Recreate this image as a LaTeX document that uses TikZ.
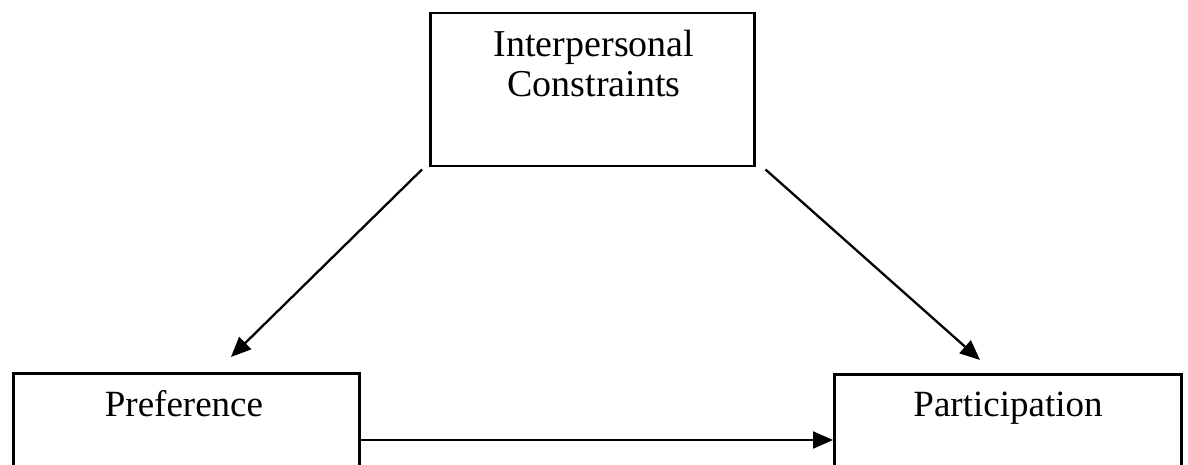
\documentclass[tikz,border=0pt]{standalone}
\usepackage{fontspec}
\setmainfont{Liberation Serif}
\usetikzlibrary{arrows.meta}
\tikzset{
  box/.style={draw, line width=2.5pt, rectangle, inner sep=0pt, anchor=north west},
  arr/.style={line width=2.3pt, -{Triangle[length=20pt,width=17pt]}},
  lbl/.style={inner sep=0pt, align=center},
}
\begin{document}
\begin{tikzpicture}[x=1pt,y=-1pt]
  \useasboundingbox (0,0) rectangle (1188,465);
  \clip (0,0) rectangle (1188,465);
  % boxes (the two lower ones run past the bottom edge)
  \node[box, minimum width=324pt, minimum height=153pt] (ic) at (429,12) {};
  \node[box, minimum width=346pt, minimum height=130pt] (pref) at (12,372) {};
  \node[box, minimum width=347pt, minimum height=130pt] (part) at (833,373) {};
  % labels
  \node[lbl, anchor=north, font=\fontsize{38}{40}\selectfont] (ictext) at (594,30)
    {Interpersonal\\Constraints};
  \node[lbl, anchor=base, font=\fontsize{37}{42}\selectfont] (preftext) at (184,416) {Preference};
  \node[lbl, anchor=base, font=\fontsize{37}{42}\selectfont] (parttext) at (1008,416) {Participation};
  % connectors
  \draw[arr] ([xshift=-7pt,yshift=-2pt]ic.south west) -- ([xshift=219pt,yshift=15pt]pref.north west);
  \draw[arr] ([xshift=10pt,yshift=-2pt]ic.south east) -- ([xshift=147pt,yshift=13pt]part.north west);
  \draw[arr] ([yshift=-68pt]pref.north east) -- ([yshift=-67pt]part.north west);
\end{tikzpicture}
\end{document}
